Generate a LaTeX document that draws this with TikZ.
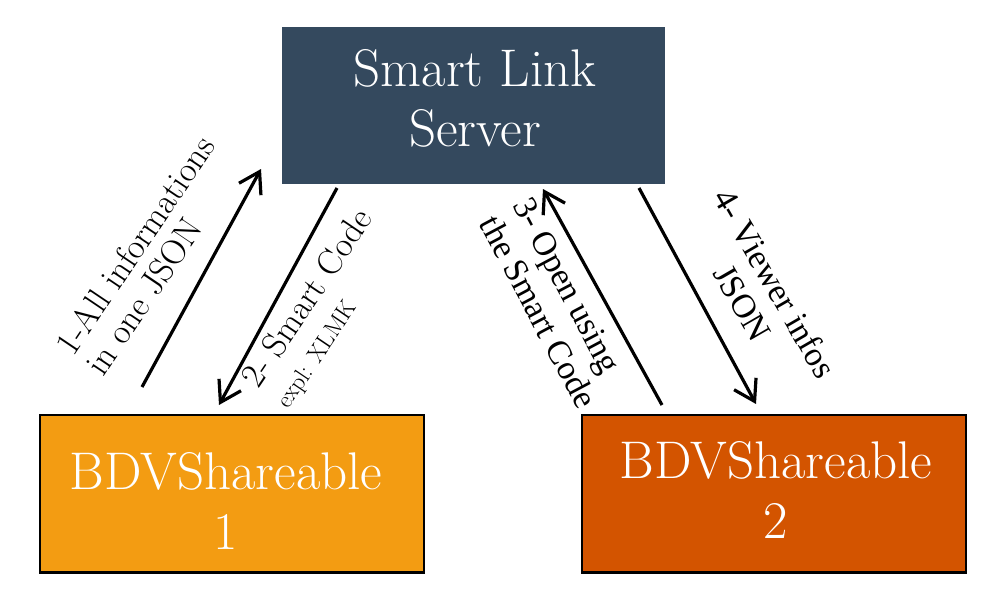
\documentclass[tikz,border=0pt]{standalone}
\usepackage{fontspec}
\newfontfamily\timesf{Liberation Serif}
\usetikzlibrary{arrows.meta}
\definecolor{srvc}{HTML}{34495E}
\definecolor{orA}{HTML}{F39C12}
\definecolor{orB}{HTML}{D35400}
\tikzset{
  boxshape/.style={rectangle, inner sep=0pt, minimum width=384pt, minimum height=157.5pt},
  srvbox/.style={boxshape, fill=srvc, minimum width=383pt},
  devbox/.style={boxshape, draw=black, line width=2.5pt},
  boxtext/.style={text=white, align=center, inner sep=0pt, font=\fontsize{53}{60}\selectfont},
  lblA/.style={text=black, inner sep=0pt, font=\fontsize{35}{36}\selectfont},
  lblB/.style={text=black, inner sep=0pt, font=\timesf\fontsize{34}{38}\selectfont},
  flow/.style={line width=3.2pt, -{Straight Barb[length=20pt,width=25pt]}}
}
\begin{document}
\begin{tikzpicture}[x=1pt,y=-1pt]
\fill[white] (0,0) rectangle (1000,610);
\useasboundingbox (0,0) rectangle (1000,610);

% boxes
\node[srvbox] (srv) at (473.5,105.5) {};
\node[devbox, fill=orA] (b1) at (232,493.5) {};
\node[devbox, fill=orB] (b2) at (774,493.5) {};

% box texts
\node[boxtext] (srvt) at (475,98.5) {Smart Link\\Server};
\node[boxtext] (b1t) at (226,500.5) {BDVShareable\\1};
\node[boxtext] (b2t) at (776,489.5) {BDVShareable\\2};

% connector end points
\coordinate (a1s) at (142,387);
\coordinate (a1e) at (261,169);
\coordinate (a2s) at (337,188);
\coordinate (a2e) at (219,405);
\coordinate (a3s) at (662,405);
\coordinate (a3e) at (543,189);
\coordinate (a4s) at (639,188);
\coordinate (a4e) at (756,404);

\draw[flow] (a1s) -- (a1e);
\draw[flow] (a2s) -- (a2e);
\draw[flow] (a3s) -- (a3e);
\draw[flow] (a4s) -- (a4e);

% labels
\node[lblA, align=left, rotate=56] (l1) at (150,255) {1-All informations\\in one JSON};
\node[lblA, align=left, rotate=56] (l2) at (323,309) {2- Smart Code\\{\fontsize{24}{24}\selectfont expl: XLMK}};
\node[lblB, align=left, rotate=-62] (l3) at (555,303) {3- Open using\\the Smart Code};
\node[lblB, align=center, rotate=-60] (l4) at (759,293) {4- Viewer infos\\JSON};
\end{tikzpicture}
\end{document}
